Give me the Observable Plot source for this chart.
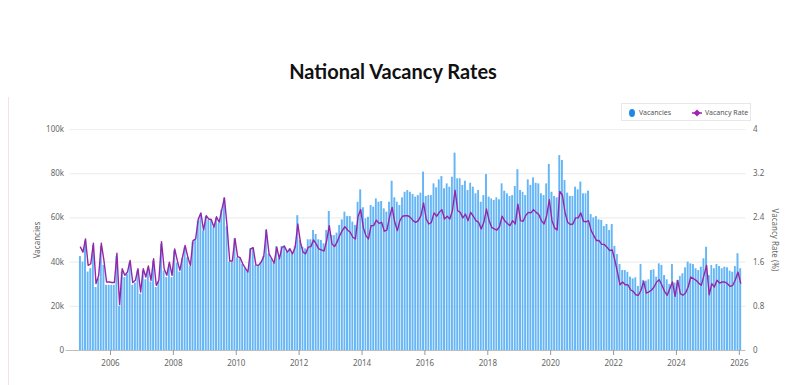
<!DOCTYPE html>
<html><head><meta charset="utf-8">
<script src="https://cdn.jsdelivr.net/npm/d3@7"></script>
<script src="https://cdn.jsdelivr.net/npm/@observablehq/plot@0.6"></script>
<style>
body{margin:0;background:#fff;}
#wrap{position:relative;width:800px;height:385px;overflow:hidden;font-family:"Noto Sans",sans-serif;background:#fff;}
#title{position:absolute;left:0;width:786px;top:59px;text-align:center;font:bold 20px Lato,sans-serif;color:#111;}
#edge{position:absolute;left:8px;top:97px;width:1px;height:288px;background:#f7dfe7;}
#chart{position:absolute;left:0;top:100px;}
#legend{position:absolute;left:621px;top:103px;width:130px;height:18px;border:1px solid #e8e8e8;box-sizing:border-box;font-size:7px;color:#555;}
#legend span{position:absolute;top:3.5px;white-space:nowrap;}
.ytitle{position:absolute;font-size:8px;color:#666;white-space:nowrap;}
</style></head>
<body>
<div id="wrap">
  <div id="edge"></div>
  <div id="title">National Vacancy Rates</div>
  <div id="chart"></div>
  <div id="legend">
    <svg width="130" height="18" style="position:absolute;left:0;top:0">
      <ellipse cx="10" cy="9" rx="3" ry="4" fill="#1e88e5"/>
      <line x1="70" y1="9" x2="80" y2="9" stroke="#9c27b0" stroke-width="1.5"/>
      <path d="M75 5.5 L78.5 9 L75 12.5 L71.5 9 Z" fill="#9c27b0"/>
    </svg>
    <span style="left:17px">Vacancies</span>
    <span style="left:83px">Vacancy Rate</span>
  </div>
  <div class="ytitle" style="left:36px;top:240px;transform:translate(-50%,-50%) rotate(-90deg);">Vacancies</div>
  <div class="ytitle" style="left:775px;top:240px;transform:translate(-50%,-50%) rotate(90deg);">Vacancy Rate (%)</div>
</div>
<script>
const firstYear = 2005;
// Vacancies (thousands), monthly from Jan 2005
const vacanciesK = [
  42.5,40.0,49.5,35.5,37.0,47.5,28.5,32.5,47.0,38.5,29.5,29.5,
  29.5,29.5,42.5,20.0,35.5,33.0,34.5,39.5,29.5,30.5,36.0,25.5,
  36.0,32.0,37.0,31.0,40.5,28.5,31.0,48.0,36.0,33.0,39.0,33.0,
  45.0,39.5,35.5,41.5,46.5,42.0,38.0,49.0,50.0,58.5,61.5,54.0,
  60.5,59.0,59.0,55.5,60.0,57.5,63.5,69.0,56.0,40.0,40.0,50.5,
  42.0,41.5,39.0,37.0,35.5,46.0,46.5,38.5,38.5,40.0,42.5,54.5,
  43.5,41.5,39.5,47.0,41.5,47.0,47.5,44.5,46.0,44.0,47.0,61.0,
  49.8,46.7,46.0,50.1,50.1,54.3,52.5,50.1,49.8,48.3,54.3,62.9,
  52.0,52.0,53.1,56.6,59.1,62.6,60.6,60.6,58.1,56.6,67.1,72.7,
  64.6,59.6,60.3,65.6,64.9,68.6,67.1,67.4,64.1,62.6,67.1,76.6,
  69.1,67.1,65.6,69.1,71.6,72.4,71.6,70.6,69.4,70.1,71.2,80.7,
  69.7,70.1,70.1,75.4,73.6,77.2,78.7,73.2,75.4,73.9,78.4,89.3,
  77.7,77.7,74.7,76.6,72.4,75.7,73.9,70.9,72.4,67.1,70.1,79.6,
  69.4,68.6,67.9,69.1,68.2,75.4,72.1,70.9,69.7,70.1,74.2,81.8,
  72.4,71.6,70.1,77.2,74.7,78.1,75.7,75.4,70.9,70.1,75.4,84.2,
  71.6,69.7,69.1,88.2,86.0,76.9,71.2,69.7,69.7,73.9,72.7,76.2,
  70.9,70.9,72.1,61.5,60.0,60.6,59.1,58.8,56.1,57.0,54.3,57.0,
  47.1,43.4,38.9,36.2,36.2,35.4,33.2,32.4,32.9,29.0,38.9,31.7,
  31.4,32.0,36.2,36.5,33.2,39.2,38.5,33.9,32.0,29.9,38.9,30.5,
  31.7,33.5,34.7,37.4,40.0,39.2,38.9,37.0,36.2,37.7,41.5,46.7,
  33.9,38.5,37.0,38.9,38.0,37.0,37.7,37.4,35.9,35.4,38.0,43.8,
  37.0
];
// Vacancy rate (%), monthly from Jan 2005
const vacancyRate = [
  1.87,1.78,2.02,1.54,1.57,1.94,1.21,1.36,1.94,1.63,1.24,1.24,
  1.23,1.23,1.76,0.83,1.48,1.36,1.42,1.63,1.23,1.27,1.48,1.06,
  1.48,1.33,1.53,1.27,1.66,1.18,1.27,1.97,1.48,1.36,1.60,1.36,
  1.84,1.63,1.45,1.69,1.90,1.70,1.54,1.99,2.02,2.38,2.49,2.18,
  2.44,2.38,2.37,2.23,2.42,2.32,2.55,2.76,2.25,1.62,1.62,2.03,
  1.70,1.68,1.57,1.49,1.42,1.84,1.86,1.55,1.54,1.60,1.70,2.18,
  1.75,1.67,1.58,1.87,1.66,1.87,1.88,1.78,1.84,1.75,1.87,2.29,
  1.96,1.78,1.75,1.87,1.88,2.00,1.93,1.84,1.82,1.80,1.99,2.26,
  1.93,1.88,1.96,2.08,2.17,2.24,2.18,2.14,2.05,2.02,2.43,2.55,
  2.22,2.08,2.02,2.26,2.26,2.36,2.30,2.32,2.16,2.18,2.41,2.59,
  2.32,2.17,2.35,2.43,2.44,2.44,2.41,2.35,2.32,2.35,2.44,2.67,
  2.38,2.29,2.32,2.49,2.43,2.50,2.55,2.38,2.43,2.38,2.53,2.90,
  2.53,2.50,2.40,2.47,2.35,2.50,2.43,2.35,2.32,2.20,2.32,2.56,
  2.35,2.23,2.20,2.18,2.24,2.43,2.35,2.30,2.26,2.35,2.29,2.65,
  2.35,2.34,2.44,2.50,2.49,2.55,2.50,2.46,2.35,2.29,2.44,2.73,
  2.35,2.22,2.18,2.88,2.81,2.50,2.32,2.28,2.29,2.40,2.40,2.49,
  2.34,2.33,2.35,2.17,2.08,1.99,1.99,1.92,1.92,1.87,1.81,1.82,
  1.63,1.42,1.19,1.24,1.19,1.19,1.10,1.07,1.01,1.00,1.09,1.25,
  1.04,1.06,1.09,1.15,1.24,1.28,1.18,1.07,1.00,1.12,1.24,0.98,
  1.27,1.03,1.00,1.04,1.15,1.33,1.30,1.27,1.22,1.18,1.36,1.54,
  1.01,1.21,1.15,1.27,1.22,1.24,1.24,1.21,1.16,1.18,1.28,1.42,
  1.22
];
const leftTicks = [0, 20000, 40000, 60000, 80000, 100000];
const rateTicks = [0, 0.8, 1.6, 2.4, 3.2, 4];
const yearTicks = [2006, 2008, 2010, 2012, 2014, 2016, 2018, 2020, 2022, 2024, 2026];
const rateToVac = 25000; // right axis 0–4 maps onto left axis 0–100k

const data = vacanciesK.map((v, i) => {
  const start = new Date(Date.UTC(firstYear, i, 1));
  const end = new Date(Date.UTC(firstYear, i + 1, 1));
  return {start, end, mid: new Date((+start + +end) / 2), vac: v * 1000, rate: vacancyRate[i]};
});

const chart = Plot.plot({
  width: 800, height: 285,
  marginLeft: 78.6, marginRight: 58.5, marginTop: 29, marginBottom: 35,
  style: {fontFamily: "'Noto Sans', sans-serif", fontSize: "8px", color: "#666", background: "transparent", overflow: "visible"},
  x: {type: "utc", domain: [new Date(Date.UTC(firstYear, 0, 1)), new Date(Date.UTC(firstYear, vacanciesK.length, 1))]},
  y: {domain: [0, 100000]},
  marks: [
    Plot.ruleY(leftTicks.filter(d => d > 0), {stroke: "#eeeeee", strokeWidth: 1.2, insetLeft: -9, insetRight: -4}),
    Plot.rectY(data, {x1: "start", x2: "end", y: "vac", fill: "#66b6f6", insetLeft: 0.35, insetRight: 0.35}),
    Plot.line(data, {x: "mid", y: d => d.rate * rateToVac, stroke: "#9526a8", strokeWidth: 1.4}),
    Plot.ruleY([0], {stroke: "#bdbdbd", insetLeft: -13, insetRight: -4}),
    Plot.axisY(leftTicks, {anchor: "left", tickSize: 0, tickPadding: 15, label: null,
      tickFormat: d => d === 0 ? "0" : (d / 1000) + "k", fill: "#666"}),
    Plot.axisY(rateTicks.map(r => r * rateToVac), {anchor: "right", tickSize: 0, tickPadding: 11, label: null,
      tickFormat: d => String(+(d / rateToVac).toFixed(1)), fill: "#666"}),
    Plot.axisX(yearTicks.map(y => new Date(Date.UTC(y, 0, 1))), {tickSize: 5, tickPadding: 5, label: null,
      stroke: "#999", tickFormat: d3.utcFormat("%Y"), fill: "#666"})
  ]
});
document.getElementById("chart").appendChild(chart);
</script>
</body></html>
